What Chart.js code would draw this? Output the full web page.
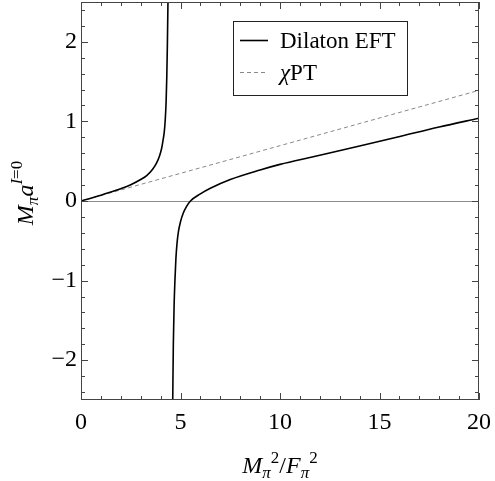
<!DOCTYPE html>
<html lang="en">
<head>
<meta charset="UTF-8">
<title>Dilaton EFT vs chiPT scattering length</title>
<script src="https://cdn.jsdelivr.net/npm/chart.js"></script>
<style>
  body { margin: 0; background: #fff; }
  #wrap { width: 495px; height: 481px; }
</style>
</head>
<body>
<div id="wrap"><canvas id="scatChart"></canvas></div>
<script>
// values
const dilatonLowX = [0, 0.5, 1.0, 1.5, 2.0, 2.5, 3.0, 3.3, 3.6, 3.8, 3.95, 4.05, 4.12, 4.19, 4.24, 4.28, 4.31, 4.34, 4.37];
const dilatonLowY = [0, 0.035, 0.072, 0.112, 0.155, 0.205, 0.27, 0.32, 0.40, 0.48, 0.57, 0.66, 0.76, 0.88, 1.05, 1.27, 1.55, 1.95, 2.5];
const dilatonHighX = [4.61, 4.64, 4.68, 4.72, 4.77, 4.83, 4.9, 5.0, 5.14, 5.3, 5.5, 6.0, 6.5, 7.5, 9.0, 10.0, 11.67, 14.0, 15.86, 18.0, 20.0];
const dilatonHighY = [-2.5, -1.8, -1.3, -1.0, -0.72, -0.52, -0.38, -0.26, -0.15, -0.07, 0.0, 0.09, 0.16, 0.27, 0.39, 0.46, 0.556, 0.69, 0.80, 0.93, 1.04];
const chptX = [0, 20];
const chptY = [0, 1.39];
const xTicks = [0, 5, 10, 15, 20];
const yTicks = [-2, -1, 0, 1, 2];
const legendLabels = ['Dilaton EFT', 'PT'];

const serif = '"Liberation Serif", "DejaVu Serif", serif';

function toPoints(xs, ys) {
  return xs.map((x, i) => ({ x: x, y: ys[i] }));
}

const dilatonData = toPoints(dilatonLowX, dilatonLowY)
  .concat([{ x: 4.5, y: null }])
  .concat(toPoints(dilatonHighX, dilatonHighY));

// frame, inward ticks, zero line, legend and axis titles, Mathematica style
const framePlugin = {
  id: 'framePlugin',
  beforeDatasetsDraw(chart) {
    const ctx = chart.ctx;
    const a = chart.chartArea;
    const y0 = chart.scales.y.getPixelForValue(0);
    ctx.save();
    ctx.strokeStyle = '#8c8c8c';
    ctx.lineWidth = 1;
    ctx.beginPath();
    ctx.moveTo(a.left, Math.round(y0) + 0.5);
    ctx.lineTo(a.right, Math.round(y0) + 0.5);
    ctx.stroke();
    ctx.restore();
  },
  afterDraw(chart) {
    const ctx = chart.ctx;
    const a = chart.chartArea;
    const xs = chart.scales.x;
    const ys = chart.scales.y;
    ctx.save();
    ctx.strokeStyle = '#444';
    ctx.lineWidth = 1;
    ctx.strokeRect(a.left + 0.5, a.top + 0.5, a.right - a.left - 1, a.bottom - a.top - 1);

    ctx.beginPath();
    for (let v = 0; v <= 20; v += 1) {
      const px = Math.round(xs.getPixelForValue(v)) + 0.5;
      const len = v % 5 === 0 ? 7 : 4;
      ctx.moveTo(px, a.bottom); ctx.lineTo(px, a.bottom - len);
      ctx.moveTo(px, a.top); ctx.lineTo(px, a.top + len);
    }
    for (let k = -12; k <= 12; k++) {
      const v = k * 0.2;
      const py = Math.round(ys.getPixelForValue(v)) + 0.5;
      const len = k % 5 === 0 ? 7 : 4;
      ctx.moveTo(a.left, py); ctx.lineTo(a.left + len, py);
      ctx.moveTo(a.right, py); ctx.lineTo(a.right - len, py);
    }
    ctx.stroke();

    // legend
    const lx = 233, ly = 21, lw = 174, lh = 74;
    ctx.fillStyle = '#fff';
    ctx.fillRect(lx, ly, lw, lh);
    ctx.strokeStyle = '#222';
    ctx.strokeRect(lx + 0.5, ly + 0.5, lw, lh);
    const dsets = chart.data.datasets;
    const rows = [40, 72];
    dsets.forEach((ds, i) => {
      ctx.strokeStyle = ds.borderColor;
      ctx.lineWidth = ds.borderWidth;
      ctx.setLineDash(ds.borderDash || []);
      ctx.beginPath();
      ctx.moveTo(240, rows[i] + 0.5);
      ctx.lineTo(268, rows[i] + 0.5);
      ctx.stroke();
    });
    ctx.setLineDash([]);
    ctx.fillStyle = '#000';
    ctx.textBaseline = 'alphabetic';
    ctx.textAlign = 'left';
    ctx.font = '23px ' + serif;
    ctx.fillText(legendLabels[0], 280, 48);
    ctx.font = 'italic 23px ' + serif;
    ctx.fillText('\u03c7', 280, 80);
    const chiW = ctx.measureText('\u03c7').width;
    ctx.font = '23px ' + serif;
    ctx.fillText(legendLabels[1], 280 + chiW, 80);

    // axis titles
    const xParts = [
      ['M', 'italic 24px', 0], ['\u03c0', 'italic 17px', 5], ['2', '17px', -10],
      ['/', '24px', 0], ['F', 'italic 24px', 0], ['\u03c0', 'italic 17px', 5], ['2', '17px', -10]
    ];
    drawParts(ctx, xParts, (a.left + a.right) / 2, 473, 0);
    const yParts = [
      ['M', 'italic 24px', 0], ['\u03c0', 'italic 17px', 5], ['a', 'italic 24px', 0],
      ['I', 'italic 17px', -11], ['=0', '17px', -11]
    ];
    drawParts(ctx, yParts, 193, 33, -Math.PI / 2);
    ctx.restore();
  }
};

function drawParts(ctx, parts, cx, base, angle) {
  let total = 0;
  parts.forEach(p => { ctx.font = p[1] + ' ' + serif; total += ctx.measureText(p[0]).width; });
  ctx.save();
  if (angle) {
    ctx.translate(base, cx);
    ctx.rotate(angle);
  } else {
    ctx.translate(cx, base);
  }
  let x = -total / 2;
  ctx.fillStyle = '#000';
  ctx.textAlign = 'left';
  ctx.textBaseline = 'alphabetic';
  parts.forEach(p => {
    ctx.font = p[1] + ' ' + serif;
    ctx.fillText(p[0], x, p[2]);
    x += ctx.measureText(p[0]).width;
  });
  ctx.restore();
}

new Chart(document.getElementById('scatChart').getContext('2d'), {
  type: 'scatter',
  data: {
    datasets: [
      {
        label: legendLabels[0],
        data: dilatonData,
        showLine: true,
        spanGaps: false,
        borderColor: '#000',
        borderWidth: 1.6,
        pointRadius: 0,
        cubicInterpolationMode: 'monotone'
      },
      {
        label: legendLabels[1],
        data: toPoints(chptX, chptY),
        showLine: true,
        borderColor: '#888',
        borderWidth: 1,
        borderDash: [4, 3],
        pointRadius: 0
      }
    ]
  },
  options: {
    responsive: true,
    maintainAspectRatio: false,
    animation: false,
    layout: { padding: { top: 2, right: 16, left: 0, bottom: 0 } },
    plugins: {
      legend: { display: false },
      tooltip: { enabled: false }
    },
    scales: {
      x: {
        type: 'linear',
        min: 0,
        max: 20,
        afterBuildTicks: s => { s.ticks = xTicks.map(v => ({ value: v })); },
        afterFit: s => { s.height = 81; s.paddingLeft = 0; s.paddingRight = 0; },
        grid: { display: false, drawTicks: false },
        border: { display: false },
        ticks: { color: '#000', font: { family: serif, size: 24 }, padding: 8, maxRotation: 0 }
      },
      y: {
        type: 'linear',
        min: -2.5,
        max: 2.5,
        afterBuildTicks: s => { s.ticks = yTicks.map(v => ({ value: v })); },
        afterFit: s => { s.width = 81; s.paddingTop = 0; s.paddingBottom = 0; },
        grid: { display: false, drawTicks: false },
        border: { display: false },
        ticks: {
          color: '#000',
          font: { family: serif, size: 24 },
          padding: 4,
          callback: v => v < 0 ? '\u2212' + Math.abs(v) : String(v)
        }
      }
    }
  },
  plugins: [framePlugin]
});
</script>
</body>
</html>
